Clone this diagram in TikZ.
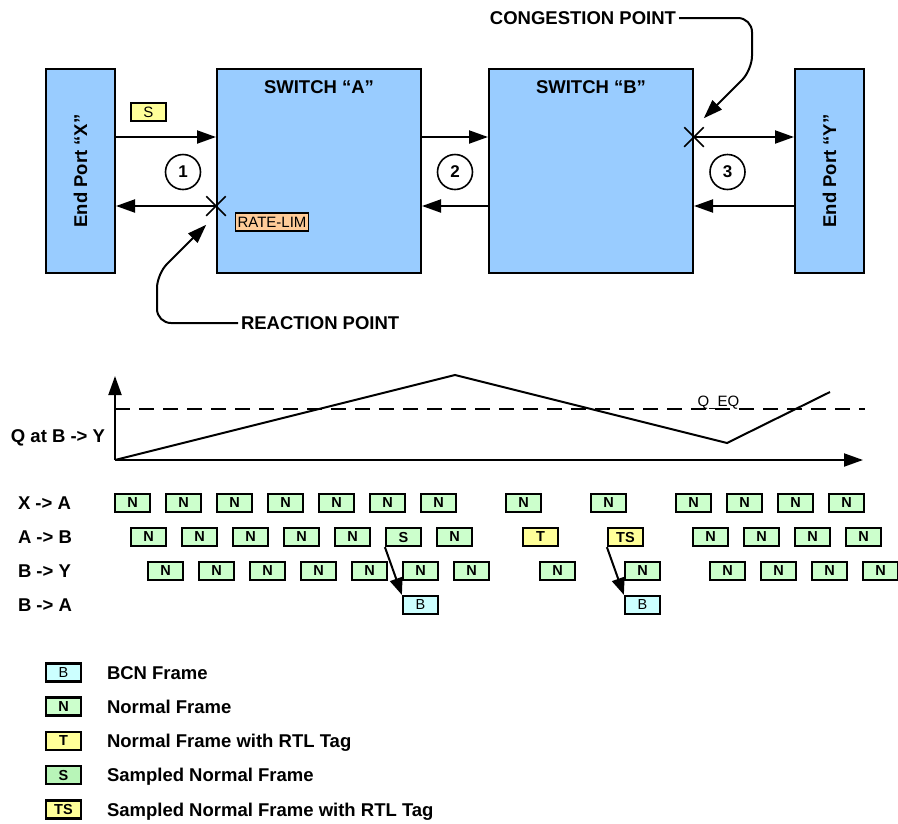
\documentclass[tikz,border=0pt]{standalone}
\usepackage{fontspec}
\setmainfont{Liberation Sans}
\usetikzlibrary{positioning, arrows.meta, shapes.misc}
\definecolor{swblue}{HTML}{99CCFF}
\definecolor{frgreen}{HTML}{CCFFCC}
\definecolor{frsamp}{HTML}{B8F5B8}
\definecolor{fryellow}{HTML}{FFFF99}
\definecolor{frcyan}{HTML}{CCFFFF}
\definecolor{rlorange}{HTML}{FFCC99}

\begin{document}
\begin{tikzpicture}[
  x=1pt, y=-1pt,
  line width=2pt, line join=miter,
  >={Triangle[length=19pt, width=13pt]},
  port/.style = {draw, fill=swblue, minimum width=69pt, minimum height=204pt,
                 inner sep=0pt, font=\bfseries\fontsize{18.5}{20}\selectfont},
  switch/.style = {draw, fill=swblue, minimum width=204pt, minimum height=204pt,
                 inner sep=0pt},
  big/.style = {font=\bfseries\fontsize{18.5}{20}\selectfont, inner sep=2pt,
                 text height=13.3pt, text depth=0pt},
  num/.style = {draw, circle, minimum size=35pt, inner sep=0pt, line width=1.6pt,
                 font=\bfseries\fontsize{17}{18}\selectfont},
  xmark/.style = {draw, cross out, minimum size=18pt, inner sep=0pt, line width=1.5pt},
  tag/.style = {draw, line width=1.6pt, minimum height=18pt, inner sep=2pt,
                 font=\fontsize{15}{16}\selectfont},
  fr/.style = {draw, fill=frgreen, line width=2.2pt, minimum width=35pt,
                 minimum height=18pt, inner sep=0pt,
                 font=\bfseries\fontsize{14.5}{15}\selectfont},
  frt/.style = {fr, fill=fryellow},
  frs/.style = {fr, fill=frsamp},
  frb/.style = {fr, fill=frcyan, font=\fontsize{14.5}{15}\selectfont},
  flow/.style = {->},
  callout/.style = {->, rounded corners=14pt},
  hop/.style = {-{Triangle[length=17pt, width=13pt]}, line width=2pt},
  eqline/.style = {dash pattern=on 15pt off 9pt}
]
\useasboundingbox (0,0) rectangle (898,823);

% ports and switches
\node[port] (px) at (80.5,171) {\rotatebox{90}{End Port “X”}};
\node[switch] (sa) at (319,171) {};
\node[switch] (sb) at (591,171) {};
\node[port] (py) at (829.5,171) {\rotatebox{90}{End Port “Y”}};
\node[big] (salbl) at ([yshift=-19pt]sa.north) {SWITCH “A”};
\node[big] (sblbl) at ([yshift=-19pt]sb.north) {SWITCH “B”};

% links
\draw[flow] ([yshift=34pt]px.east) -- ([yshift=34pt]sa.west);
\node[xmark] (rp) at ([yshift=-35pt]sa.west) {};
\draw[flow] (rp.center) -- ([yshift=-35pt]px.east);
\draw[flow] ([yshift=34pt]sa.east) -- ([yshift=34pt]sb.west);
\draw[flow] ([yshift=-35pt]sb.west) -- ([yshift=-35pt]sa.east);
\node[xmark] (cp) at ([yshift=34pt]sb.east) {};
\draw[flow] (cp.center) -- ([yshift=34pt]py.west);
\draw[flow] ([yshift=-35pt]py.west) -- ([yshift=-35pt]sb.east);

\node[num] (n1) at (183,172) {1};
\node[num] (n2) at (455,172) {2};
\node[num] (n3) at (727.5,172) {3};

\node[tag, fill=fryellow, minimum width=35pt] (stag) at (148.5,112) {S};
\node[tag, fill=rlorange] (rltag) at (272,222) {RATE-LIM};

% callouts
\node[big, anchor=west] (rplbl) at (238,323) {REACTION POINT};
\draw[callout] (rplbl.west) -| (157,274) -- ([yshift=-9pt]rp.south west);
\node[big, anchor=east] (cplbl) at (679,18) {CONGESTION POINT};
\draw[callout] (cplbl.east) -| (752,70) -- ([yshift=9pt]cp.north east);

% queue at B -> Y
\coordinate (o) at (115,460);
\coordinate (ytop) at (115,376);
\coordinate (xend) at (863,460);
\coordinate (qa) at (115,409);
\coordinate (qb) at (865,409);
\coordinate (q1) at (455,375);
\coordinate (q2) at (727,443);
\coordinate (q3) at (830,392);
\draw[->] (o) -- (ytop);
\draw[->] (o) -- (xend);
\draw[eqline] (qa) -- (qb);
\draw (o) -- (q1) -- (q2) -- (q3);
\node[font=\fontsize{15}{16}\selectfont, inner sep=0pt, anchor=base] (qeq) at (718.5,406) {Q\_EQ};
\node[big] (qlbl) at (58,436) {Q at B -> Y};

% frame rows
\node[big, anchor=west] (rxa) at (15,503) {X -> A};
\node[big, anchor=west] (rab) at (15,537) {A -> B};
\node[big, anchor=west] (rby) at (15,571) {B -> Y};
\node[big, anchor=west] (rba) at (15,605) {B -> A};

\foreach \fx [count=\i] in {132.5,183.5,234.5,285.5,336.5,387.5,438.5,523.5,608.5,693.5,744.5,795.5,846.5}
  \node[fr] (xa\i) at (\fx,503) {N};
\foreach \fx/\fs/\ft [count=\i] in {148.5/fr/N,199.5/fr/N,250.5/fr/N,301.5/fr/N,352.5/fr/N,403.5/fr/S,454.5/fr/N,540.5/frt/T,625.5/frt/TS,710.5/fr/N,761.5/fr/N,812.5/fr/N,863.5/fr/N}
  \node[\fs] (ab\i) at (\fx,537) {\ft};
\foreach \fx [count=\i] in {165.5,216.5,267.5,318.5,369.5,420.5,471.5,557.5,642.5,727.5,778.5,829.5,880.5}
  \node[fr] (by\i) at (\fx,571) {N};
\node[frb] (ba1) at (420.5,605) {B};
\node[frb] (ba2) at (642.5,605) {B};
\draw[hop] (ab6.south west) -- (ba1.north west);
\draw[hop] (ab9.south west) -- (ba2.north west);

% legend
\foreach \ly/\fs/\ft/\txt [count=\i] in {672.5/frb/B/BCN Frame, 706.5/fr/N/Normal Frame, 741/frt/T/Normal Frame with RTL Tag, 775/frs/S/Sampled Normal Frame, 809.5/frt/TS/Sampled Normal Frame with RTL Tag}
{
  \node[\fs] (lg\i) at (63.5,\ly) {\ft};
  \node[big, anchor=west] (lt\i) at (104,\ly) {\txt};
}

\end{tikzpicture}
\end{document}
